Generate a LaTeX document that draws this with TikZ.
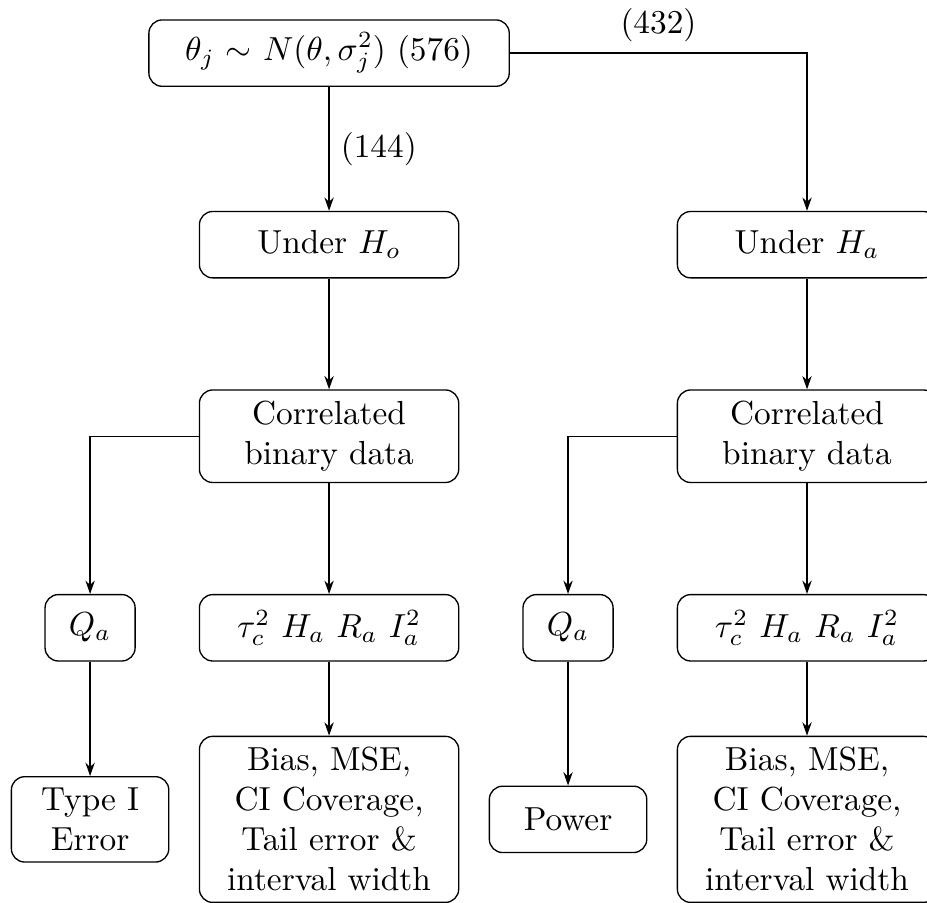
\documentclass[tikz,border=0pt]{standalone}
\usepackage{amsmath,amssymb}
\usetikzlibrary{arrows.meta}

\begin{document}
\begin{tikzpicture}[>={Stealth[length=4pt,width=2.8pt]},
  box/.style={draw,rounded corners=4pt,minimum height=0.7cm,align=center},
  widebox/.style={box,text width=2.5cm}]
  \clip (-0.95,0.56) rectangle (8.825,-8.96);
  \node[box,minimum width=3.8cm] (model) at (2.52,0) {$\theta_j$ $\sim$ $N(\theta,\sigma_j^2)$ (576)};
  \node[widebox] (h0) at (2.52,-2.02) {Under $H_o$};
  \node[widebox] (ha) at (7.56,-2.02) {Under $H_a$};
  \node[widebox] (data0) at (2.52,-4.04) {Correlated\\binary data};
  \node[widebox] (dataa) at (7.56,-4.04) {Correlated\\binary data};
  \node[box,minimum width=0.95cm] (q0) at (0,-6.06) {$Q_a$};
  \node[widebox] (est0) at (2.52,-6.06) {$\tau_c^2\ H_a\ R_a\ I_a^2$};
  \node[box,minimum width=0.95cm] (qa) at (5.04,-6.06) {$Q_a$};
  \node[widebox] (esta) at (7.56,-6.06) {$\tau_c^2\ H_a\ R_a\ I_a^2$};
  \node[box,minimum width=1.66cm] (typeone) at (0,-8.08) {Type I\\Error};
  \node[widebox] (perf0) at (2.52,-8.08) {Bias, MSE,\\CI Coverage,\\Tail error \&\\interval width};
  \node[box,minimum width=1.66cm] (power) at (5.04,-8.08) {Power};
  \node[widebox] (perfa) at (7.56,-8.08) {Bias, MSE,\\CI Coverage,\\Tail error \&\\interval width};

  \draw[->] (model) -- node[right] {(144)} (h0);
  \draw[->] (model.east) -| node[pos=0.25,above] {(432)} (ha);
  \draw[->] (h0) -- (data0);
  \draw[->] (ha) -- (dataa);
  \draw[->] (data0.west) -| (q0);
  \draw[->] (dataa.west) -| (qa);
  \draw[->] (data0) -- (est0);
  \draw[->] (dataa) -- (esta);
  \draw[->] (q0) -- (typeone);
  \draw[->] (qa) -- (power);
  \draw[->] (est0) -- (perf0);
  \draw[->] (esta) -- (perfa);
\end{tikzpicture}
\end{document}
